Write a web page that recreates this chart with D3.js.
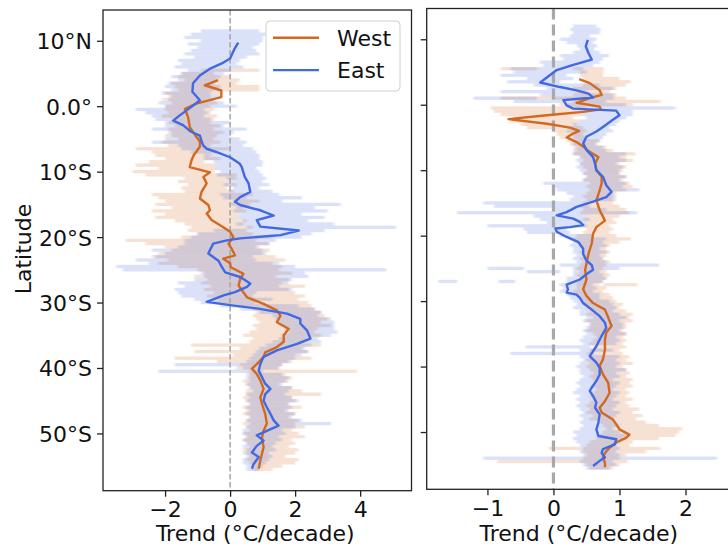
<!DOCTYPE html>
<html>
<head>
<meta charset="utf-8">
<script src="https://cdn.jsdelivr.net/npm/d3@7"></script>
<style>
  html, body { margin: 0; padding: 0; background: #fff; }
  svg { display: block; font-family: "DejaVu Sans", sans-serif; }
</style>
</head>
<body>
<svg id="chart" width="728" height="546"></svg>
<script>
// ---- mean trend profiles: [latitude, trend °C/decade] ----
const westLeft = [
  [4.0,-0.37],[3.2,-0.78],[2.4,-0.27],[1.4,-0.27],[0.4,-1.04],[-0.4,-1.39],[-1.7,-1.29],[-3.2,-1.24],
  [-4.6,-1.05],[-5.4,-0.93],[-6.2,-0.93],[-7.5,-1.12],[-8.3,-1.19],[-9.3,-1.24],[-10.1,-0.62],[-10.8,-0.82],[-11.8,-0.72],
  [-13.1,-0.88],[-14.1,-0.93],[-15.1,-0.67],[-15.9,-0.62],[-16.4,-0.72],[-17.4,-0.57],[-18.5,-0.21],[-19.2,0.0],
  [-20.0,0.10],[-21.0,-0.05],[-21.8,0.05],[-22.8,0.15],[-23.3,-0.21],[-24.0,0.0],[-24.6,0.02],[-25.6,0.41],
  [-26.4,0.31],[-27.4,0.26],[-28.1,0.36],[-29.2,0.52],[-30.2,1.03],[-31.2,1.44],[-32.0,1.55],[-33.0,1.44],
  [-34.0,1.80],[-35.0,1.65],[-36.0,1.65],[-36.8,1.44],[-37.6,1.08],[-38.3,1.03],[-39.4,0.82],[-40.1,0.67],
  [-40.9,0.82],[-41.9,0.93],[-43.2,1.03],[-44.5,0.93],[-45.5,0.98],[-47.0,1.08],[-48.5,1.13],[-49.6,1.03],
  [-50.6,0.98],[-52.1,1.03],[-53.1,0.98],[-54.1,0.93],[-55.4,0.88]
];
const eastLeft = [
  [9.7,0.25],[8.8,0.14],[7.3,0.0],[6.5,-0.27],[5.7,-0.63],[4.7,-0.93],[3.5,-1.14],[2.2,-1.16],[0.9,-0.93],
  [-0.1,-1.19],[-1.4,-1.55],[-2.2,-1.75],[-2.9,-1.45],[-3.9,-1.2],[-4.5,-0.93],[-5.3,-0.88],[-6.0,-0.83],
  [-6.5,-0.72],[-7.0,-0.41],[-7.8,0.0],[-8.8,0.3],[-9.3,0.36],[-10.8,0.45],[-11.8,0.57],[-13.1,0.62],
  [-13.9,0.31],[-14.6,0.15],[-15.1,0.31],[-15.9,0.93],[-16.7,1.34],[-17.4,0.82],[-18.4,0.93],[-19.0,2.11],
  [-19.7,1.55],[-20.2,0.31],[-20.5,-0.10],[-21.0,-0.52],[-22.5,-0.67],[-23.6,-0.36],[-24.6,-0.25],[-25.4,-0.15],
  [-26.1,0.31],[-27.1,0.62],[-27.6,0.52],[-28.4,0.15],[-28.9,-0.20],[-29.9,-0.72],[-30.4,0.0],[-30.9,0.82],
  [-31.7,1.75],[-32.5,2.16],[-33.2,2.16],[-34.3,2.37],[-35.5,2.47],[-36.3,2.06],[-37.3,1.44],[-38.3,1.03],
  [-39.4,0.93],[-40.4,0.88],[-41.4,0.98],[-42.4,1.08],[-43.2,1.24],[-44.0,1.08],[-45.0,1.03],[-46.0,1.13],
  [-47.0,1.24],[-48.0,1.34],[-48.8,1.49],[-49.6,1.13],[-50.3,0.82],[-51.1,1.03],[-51.9,0.82],[-52.9,0.67],
  [-53.6,0.88],[-54.7,0.72],[-55.4,0.67]
];
const westRight = [
  [3.9,0.39],[3.3,0.55],[2.2,0.70],[1.5,0.73],[1.0,0.55],[0.3,0.35],[-0.3,0.70],[-0.7,0.72],[-1.1,0.45],
  [-1.6,-0.10],[-2.2,-0.68],[-2.9,-0.10],[-3.5,0.25],[-4.0,0.39],[-4.5,0.28],[-5.0,0.20],[-5.7,0.35],
  [-6.4,0.45],[-7.2,0.55],[-8.0,0.68],[-9.0,0.63],[-10.0,0.65],[-11.0,0.73],[-12.0,0.73],[-13.1,0.70],
  [-14.6,0.65],[-16.1,0.70],[-17.7,0.78],[-18.7,0.65],[-19.7,0.60],[-21.2,0.58],[-22.8,0.53],[-24.3,0.50],
  [-25.2,0.48],[-26.7,0.50],[-28.2,0.45],[-29.2,0.50],[-30.3,0.60],[-31.3,0.78],[-32.5,0.83],[-33.8,0.88],
  [-34.8,0.80],[-35.9,0.78],[-37.4,0.78],[-38.9,0.75],[-39.9,0.70],[-41.2,0.75],[-42.5,0.83],[-44.0,0.85],
  [-45.3,0.78],[-46.3,0.70],[-47.0,0.73],[-48.1,0.90],[-48.8,0.95],[-49.6,1.00],[-50.4,1.15],[-50.9,1.10],
  [-51.6,0.95],[-52.4,0.85],[-53.2,0.78],[-53.9,0.75],[-54.7,0.78],[-55.4,0.78]
];
const eastRight = [
  [9.9,0.52],[8.9,0.49],[7.9,0.53],[6.9,0.58],[6.1,0.30],[5.3,0.05],[4.3,-0.08],[3.4,-0.20],[2.7,0.10],
  [2.2,0.35],[1.7,0.53],[1.1,0.60],[0.7,0.15],[-0.1,0.20],[-0.6,0.30],[-0.9,0.95],[-1.6,1.0],[-2.3,0.90],
  [-3.4,0.75],[-4.1,0.65],[-4.9,0.50],[-5.9,0.45],[-6.9,0.50],[-8.0,0.60],[-9.0,0.63],[-10.0,0.65],
  [-11.0,0.75],[-12.3,0.80],[-13.3,0.88],[-14.1,0.80],[-14.8,0.60],[-15.6,0.35],[-16.4,0.20],[-16.9,0.05],
  [-17.4,0.30],[-17.9,0.40],[-18.4,0.45],[-18.7,0.25],[-18.9,0.03],[-19.4,0.05],[-20.2,0.20],[-21.0,0.38],
  [-22.0,0.45],[-22.8,0.45],[-23.8,0.50],[-24.5,0.58],[-25.2,0.60],[-25.9,0.50],[-26.7,0.40],[-27.5,0.20],
  [-28.2,0.22],[-28.7,0.20],[-29.0,0.35],[-29.5,0.40],[-30.3,0.45],[-31.3,0.58],[-32.3,0.70],[-33.3,0.78],
  [-34.1,0.80],[-35.3,0.73],[-36.9,0.65],[-38.4,0.55],[-39.4,0.65],[-40.2,0.70],[-41.2,0.70],[-42.2,0.65],
  [-43.2,0.58],[-43.7,0.55],[-44.5,0.60],[-45.5,0.65],[-46.3,0.63],[-47.3,0.70],[-48.6,0.68],[-49.6,0.65],
  [-50.6,0.68],[-51.1,0.95],[-51.9,0.93],[-52.6,0.75],[-53.2,0.73],[-53.9,0.78],[-54.4,0.70],[-55.2,0.60]
];

// ---- spread per 0.5° latitude row: [latitude, low, high] ----
const eastLeftBand = [
  [11.5,-0.9,0.9],[11,-1.2,1.1],[10.5,-1.4,1.0],[10,-0.9,1.0],[9.5,-1.3,0.9],[9,-1.0,0.7],[8.5,-1.2,0.8],[8,-1.4,0.9],
  [7.5,-1.1,0.5],[7,-1.6,0.3],[6.5,-1.5,0.2],[6,-1.7,0.4],[5.5,-1.3,0.0],[5,-1.5,-0.2],[4.5,-1.8,-0.3],[4,-1.6,-0.4],
  [3.5,-1.9,-0.5],[3,-2.0,-0.3],[2.5,-1.8,-0.5],[2,-2.1,-0.6],[1.5,-1.8,-0.3],[1,-1.9,-0.5],[0.5,-2.2,-0.2],[0,-2.0,0.2],
  [-0.5,-2.9,-0.8],[-1,-2.6,-0.7],[-1.5,-2.4,-0.8],[-2,-2.3,-0.6],[-2.5,-1.9,0.0],[-3,-2.0,-0.2],[-3.5,-2.4,0.5],[-4,-1.9,0.1],
  [-4.5,-1.8,0.0],[-5,-2.0,0.3],[-5.5,-2.4,0.5],[-6,-1.6,0.4],[-6.5,-1.5,0.7],[-7,-1.2,0.8],[-7.5,-0.8,0.9],[-8,-0.8,0.9],
  [-8.5,-0.5,1.0],[-9,-0.4,1.0],[-9.5,-0.5,0.8],[-10,-0.3,0.9],[-10.5,-0.4,1.0],[-11,-0.1,1.1],[-11.5,0.0,1.0],[-12,-0.2,1.2],
  [-12.5,0.1,0.9],[-13,0.0,1.3],[-13.5,-0.3,1.5],[-14,-0.2,2.2],[-14.5,0.1,1.6],[-15,0.0,3.4],[-15.5,0.2,2.6],[-16,0.1,3.0],
  [-16.5,0.3,2.2],[-17,0.2,2.9],[-17.5,0.4,2.4],[-18,0.2,3.2],[-18.5,0.5,5.1],[-19,-0.5,2.9],[-19.5,-1.0,2.5],[-20,-1.2,2.2],
  [-20.5,-1.4,1.4],[-21,-1.4,1.2],[-21.5,-1.6,0.8],[-22,-2.4,1.0],[-22.5,-2.0,1.1],[-23,-2.3,0.7],[-23.5,-2.9,0.8],[-24,-2.5,1.5],
  [-24.5,-3.5,2.0],[-25,-3.3,4.8],[-25.5,-0.9,2.3],[-26,-0.8,2.4],[-26.5,-1.1,1.9],[-27,-1.6,1.8],[-27.5,-1.4,1.5],[-28,-1.7,1.9],
  [-28.5,-1.6,0.8],[-29,-1.5,0.7],[-29.5,-1.1,1.3],[-30,-0.9,0.8],[-30.5,-0.3,2.1],[-31,0.3,2.6],[-31.5,0.9,2.8],[-32,1.3,2.7],
  [-32.5,1.4,3.0],[-33,1.5,3.2],[-33.5,1.6,3.2],[-34,1.7,3.2],[-34.5,1.8,3.3],[-35,1.6,3.1],[-35.5,1.5,2.7],[-36,1.3,2.8],
  [-36.5,1.1,2.5],[-37,0.9,2.3],[-37.5,0.8,2.4],[-38,0.7,2.2],[-38.5,0.6,2.0],[-39,0.5,1.8],[-39.5,-1.7,1.6],[-40,0.4,1.5],
  [-40.5,-2.2,1.0],[-41,0.6,1.6],[-41.5,0.5,1.8],[-42,0.6,1.7],[-42.5,0.5,1.6],[-43,0.6,1.9],[-43.5,0.7,1.8],[-44,0.5,1.7],
  [-44.5,0.6,1.9],[-45,0.5,2.1],[-45.5,0.6,1.8],[-46,0.5,1.9],[-46.5,0.6,1.8],[-47,0.5,2.0],[-47.5,0.6,1.9],[-48,0.5,2.2],
  [-48.5,0.6,3.1],[-49,0.5,2.0],[-49.5,0.4,1.6],[-50,0.4,1.7],[-50.5,0.5,1.5],[-51,0.4,1.6],[-51.5,0.5,1.4],[-52,0.4,1.3],
  [-52.5,0.5,1.4],[-53,0.4,1.2],[-53.5,0.5,1.3],[-54,0.4,1.2],[-54.5,0.4,1.1],[-55,0.5,1.0],[-55.5,0.5,0.9]
];
const westLeftBand = [
  [5.5,-0.9,0.9],[5,-1.5,-0.5],[4.5,-1.6,0.0],[4,-1.4,0.3],[3.5,-1.8,0.2],[3,-1.7,0.9],[2.5,-1.6,0.9],[2,-2.0,-0.3],
  [1.5,-1.9,-0.6],[1,-2.1,-0.5],[0.5,-1.8,-0.4],[0,-2.0,-0.6],[-0.5,-2.0,-0.5],[-1,-1.9,-0.6],[-1.5,-2.1,-0.4],[-2,-1.8,-0.5],
  [-2.5,-2.0,-0.6],[-3,-1.7,-0.3],[-3.5,-1.9,-0.5],[-4,-1.8,-0.2],[-4.5,-2.0,-0.4],[-5,-1.6,-0.5],[-5.5,-2.1,-0.3],[-6,-1.9,-0.6],
  [-6.5,-2.9,0.0],[-7,-2.4,-0.4],[-7.5,-2.3,-0.6],[-8,-2.0,-0.3],[-8.5,-2.5,-0.8],[-9,-2.9,-0.4],[-9.5,-2.2,-0.5],[-10,-3.0,-0.5],
  [-10.5,-2.6,0.2],[-11,-1.4,0.2],[-11.5,-1.6,0.0],[-12,-1.3,0.2],[-12.5,-1.5,-0.1],[-13,-1.4,0.1],[-13.5,-2.4,0.7],[-14,-2.2,0.5],
  [-14.5,-2.0,0.9],[-15,-2.3,0.6],[-15.5,-1.8,0.4],[-16,-2.4,0.5],[-16.5,-2.0,0.3],[-17,-2.3,0.2],[-17.5,-1.7,0.5],[-18,-1.4,0.4],
  [-18.5,-1.2,0.7],[-19,-1.3,0.5],[-19.5,-1.0,0.7],[-20,-1.5,1.3],[-20.5,-3.2,0.8],[-21,-2.6,1.2],[-21.5,-2.0,0.9],[-22,-1.8,1.2],
  [-22.5,-2.2,1.0],[-23,-2.4,1.4],[-23.5,-1.9,1.7],[-24,-2.2,1.3],[-24.5,-1.6,1.6],[-25,-1.0,1.5],[-25.5,-0.8,1.9],[-26,-1.1,1.4],
  [-26.5,-0.7,1.8],[-27,-0.9,1.6],[-27.5,-0.6,2.3],[-28,-0.8,1.8],[-28.5,-0.5,2.0],[-29,-0.7,2.3],[-29.5,-0.4,2.1],[-30,-0.5,2.4],
  [-30.5,0.2,2.5],[-31,0.7,2.6],[-31.5,0.8,2.8],[-32,0.7,2.9],[-32.5,0.8,3.1],[-33,0.9,2.8],[-33.5,0.7,3.1],[-34,0.8,2.7],
  [-34.5,0.6,2.6],[-35,0.4,2.8],[-35.5,0.7,2.4],[-36,0.6,2.3],[-36.5,-1.2,2.8],[-37,0.3,2.2],[-37.5,-1.1,2.4],[-38,0.1,2.0],
  [-38.5,-1.7,2.5],[-39,-0.4,1.9],[-39.5,0.3,1.6],[-40,0.2,1.5],[-40.5,0.6,3.9],[-41,0.5,1.7],[-41.5,0.6,1.9],[-42,0.4,1.8],
  [-42.5,0.5,1.5],[-43,0.6,1.9],[-43.5,0.5,2.2],[-44,0.5,2.8],[-44.5,0.4,1.9],[-45,0.5,2.0],[-45.5,0.6,1.8],[-46,0.4,2.2],
  [-46.5,0.5,1.7],[-47,0.4,2.0],[-47.5,0.6,1.8],[-48,0.5,2.1],[-48.5,0.4,2.0],[-49,0.5,2.3],[-49.5,0.6,1.9],[-50,0.4,2.1],
  [-50.5,0.5,2.3],[-51,0.4,1.9],[-51.5,0.5,2.0],[-52,0.6,1.8],[-52.5,0.4,2.1],[-53,0.5,2.0],[-53.5,0.6,1.7],[-54,0.5,2.1],
  [-54.5,0.6,2.0],[-55,0.7,1.6],[-55.5,0.7,1.3]
];
const eastRightBand = [
  [12,0.3,0.65],[11.5,0.26,0.71],[11,0.3,0.7],[10.5,0.25,0.55],[10,0.1,0.65],[9.5,0.2,0.6],[9,0.36,0.66],[8.5,0.4,0.62],
  [8,0.3,0.7],[7.5,0.1,0.84],[7,0.15,0.75],[6.5,-0.2,0.7],[6,-0.15,0.6],[5.5,-0.65,0.45],[5,-0.6,0.5],[4.5,-0.8,0.2],
  [4,-0.4,0.3],[3.5,-0.7,0.1],[3,-0.3,0.7],[2.5,-0.1,0.9],[2,-0.8,0.5],[1.5,-0.2,0.9],[1,-1.21,-0.25],[1,0.0,0.91],
  [0.5,-0.6,0.8],[0,0.2,1.1],[-0.5,0.3,1.85],[-1,0.4,1.2],[-1.5,0.45,1.2],[-2,0.5,1.1],[-2.5,0.4,1.0],[-3,0.3,0.95],
  [-3.5,0.25,0.85],[-4,0.2,0.9],[-4.5,0.3,0.8],[-5,0.3,0.75],[-5.5,0.35,0.7],[-6,0.3,0.65],[-6.5,0.35,0.75],[-7,0.3,0.8],
  [-7.5,0.3,1.1],[-8,0.4,1.0],[-8.5,0.35,1.1],[-9,0.4,0.95],[-9.5,0.35,1.05],[-10,0.4,1.0],[-10.5,0.45,1.0],[-11,0.5,1.1],
  [-11.5,0.45,1.0],[-12,-0.15,1.1],[-12.5,0.0,1.05],[-13,0.05,1.3],[-13.5,0.2,0.9],[-14,0.3,0.95],[-14.5,0.25,0.9],[-15,-1.06,0.5],
  [-15.5,-0.9,0.55],[-16,0.0,0.8],[-16.5,-1.46,1.27],[-17,-0.3,0.5],[-17.5,-0.2,0.55],[-18,-0.1,0.5],[-18.5,-1.0,0.5],[-19,-0.45,0.2],
  [-19.5,-0.4,0.25],[-20,0.1,0.6],[-20.5,0.25,0.8],[-21,0.3,0.75],[-21.5,0.25,0.8],[-22,0.3,0.7],[-22.5,0.3,0.8],[-23,0.35,0.7],
  [-23.5,0.3,0.75],[-24,0.35,0.8],[-24.5,0.1,1.6],[-25,-1.0,-0.45],[-25,0.3,1.0],[-25.5,-0.4,0.1],[-25.5,0.3,0.7],[-26,0.3,0.75],
  [-26.5,0.2,0.8],[-27,-1.74,-1.46],[-27,-0.83,-0.58],[-27,0.2,0.75],[-27.5,0.1,0.6],[-28,0.15,0.65],[-28.5,0.1,0.6],[-29,0.2,0.7],
  [-29.5,0.25,0.7],[-30,0.3,0.85],[-30.5,0.35,0.9],[-31,0.3,0.95],[-31.5,0.4,0.9],[-32,0.4,1.0],[-32.5,0.5,1.1],[-33,0.45,1.0],
  [-33.5,0.55,1.05],[-34,0.5,1.05],[-34.5,0.45,1.0],[-35,0.5,1.1],[-35.5,0.45,0.95],[-36,0.4,1.0],[-36.5,0.45,0.95],[-37,-0.42,0.56],
  [-37.5,0.4,0.9],[-38,-0.65,0.61],[-38.5,0.4,1.0],[-39,0.45,0.95],[-39.5,0.4,1.0],[-40,0.35,0.95],[-40.5,0.4,1.1],[-41,0.4,0.95],
  [-41.5,0.45,1.0],[-42,0.4,0.9],[-42.5,0.35,1.0],[-43,0.4,0.95],[-43.5,0.35,0.9],[-44,0.3,1.0],[-44.5,0.4,0.95],[-45,0.35,0.9],
  [-45.5,0.4,1.0],[-46,0.35,0.95],[-46.5,0.4,0.9],[-47,0.45,1.0],[-47.5,0.4,0.95],[-48,0.45,0.9],[-48.5,0.4,0.95],[-49,0.45,1.0],
  [-49.5,0.4,0.9],[-50,0.3,1.0],[-50.5,0.35,1.1],[-51,0.3,1.05],[-51.5,0.35,1.0],[-52,0.4,0.95],[-52.5,0.45,1.0],[-53,0.4,0.95],
  [-53.5,0.45,1.0],[-54,-1.06,2.48],[-54.5,0.4,0.9],[-55,0.45,0.95],[-55.5,0.5,0.85]
];
const westRightBand = [
  [5.5,-0.8,-0.25],[5.5,0.3,0.76],[5,0.4,0.76],[4.5,0.4,0.75],[4,0.45,1.0],[3.5,0.5,1.17],[3,0.45,1.1],[2.5,0.3,0.95],
  [2,0.35,0.85],[1.5,0.3,0.95],[1,-0.8,1.1],[0.5,0.3,1.62],[0,0.1,1.2],[-0.5,-0.95,0.5],[-1,-0.9,0.4],[-1.5,-0.8,0.45],
  [-2,-0.6,0.3],[-2.5,-0.65,0.4],[-3,-0.5,0.35],[-3.5,-0.4,0.45],[-4,0.0,0.5],[-4.5,0.05,0.45],[-5,0.1,0.5],[-5.5,0.2,0.7],
  [-6,0.25,0.65],[-6.5,0.3,0.8],[-7,0.35,0.9],[-7.5,0.3,1.24],[-8,0.4,1.1],[-8.5,0.45,1.2],[-9,0.4,1.0],[-9.5,0.45,1.1],
  [-10,0.5,1.05],[-10.5,0.45,1.0],[-11,0.5,1.1],[-11.5,0.45,1.05],[-12,0.55,1.15],[-12.5,0.5,1.2],[-13,0.55,1.1],[-13.5,0.5,0.95],
  [-14,0.45,0.9],[-14.5,0.5,0.95],[-15,0.45,0.9],[-15.5,0.4,1.0],[-16,0.45,1.1],[-16.5,0.4,1.15],[-17,0.5,1.0],[-17.5,0.45,0.9],
  [-18,0.5,0.95],[-18.5,0.45,0.85],[-19,0.5,0.9],[-19.5,0.45,0.85],[-20,0.35,0.95],[-20.5,0.3,1.17],[-21,0.35,1.0],[-21.5,0.4,0.85],
  [-22,0.45,0.8],[-22.5,0.4,0.85],[-23,0.45,0.8],[-23.5,0.4,0.75],[-24,0.45,0.85],[-24.5,0.4,0.8],[-25,0.35,0.75],[-25.5,0.4,0.8],
  [-26,0.35,0.85],[-26.5,0.4,0.8],[-27,0.35,0.75],[-27.5,0.76,1.27],[-27.5,0.35,0.7],[-28,0.35,0.8],[-28.5,0.3,0.75],[-29,0.35,0.85],
  [-29.5,0.4,0.9],[-30,0.4,0.95],[-30.5,0.45,1.05],[-31,0.5,1.0],[-31.5,0.55,1.1],[-32,0.5,1.2],[-32.5,0.6,1.15],[-33,0.5,1.2],
  [-33.5,0.55,1.1],[-34,0.55,1.1],[-34.5,0.5,1.05],[-35,0.6,1.1],[-35.5,0.65,1.05],[-36,0.6,1.1],[-36.5,0.55,1.05],[-37,0.6,1.1],
  [-37.5,0.55,1.0],[-38,0.5,1.05],[-38.5,0.55,1.15],[-39,0.5,1.1],[-39.5,0.55,1.2],[-40,0.5,1.05],[-40.5,0.55,1.1],[-41,0.6,1.15],
  [-41.5,0.55,1.1],[-42,0.6,1.2],[-42.5,0.65,1.15],[-43,0.6,1.2],[-43.5,0.65,1.1],[-44,0.6,1.15],[-44.5,0.55,1.1],[-45,0.6,1.2],
  [-45.5,0.55,1.1],[-46,0.5,1.15],[-46.5,0.55,1.3],[-47,0.5,1.2],[-47.5,0.6,1.35],[-48,0.55,1.25],[-48.5,0.7,1.4],[-49,0.75,1.6],
  [-49.5,0.8,1.95],[-50,0.75,1.9],[-50.5,0.7,1.85],[-51,0.65,1.6],[-51.5,0.55,1.2],[-52,0.5,1.15],[-52.5,-0.07,1.62],[-53,0.45,1.4],
  [-53.5,0.5,1.1],[-54,0.45,1.0],[-54.5,-0.85,1.12],[-55,0.5,1.0],[-55.5,0.55,0.9]
];

// ---- axis ticks and labels ----
const latTicks = [10, 0, -10, -20, -30, -40, -50];
const leftTrendTicks = [-2, 0, 2, 4];
const rightTrendTicks = [-1, 0, 1, 2];
const seriesNames = ["West", "East"];
const xTitle = "Trend (°C/decade)";
const yTitle = "Latitude";

const COLORS = { West: "#d2691e", East: "#4169e1" };
const FONT = 22;

const svg = d3.select("#chart");

const latFormat = v => v > 0 ? `${v}°N` : v < 0 ? `${-v}°S` : "0.0°";
const numFormat = v => v < 0 ? "\u2212" + (-v) : String(v);

const panels = [
  { id: "L", box: { x0: 103, x1: 411.5, y0: 10, y1: 490.7 }, xDomain: [-3.91, 5.58],
    ticks: leftTrendTicks, showLat: true, zeroWidth: 1.6, zeroDash: "5.5,2.5",
    west: westLeft, east: eastLeft, westBand: westLeftBand, eastBand: eastLeftBand },
  { id: "R", box: { x0: 426.7, x1: 735, y0: 8.5, y1: 489.3 }, xDomain: [-1.92, 2.75],
    ticks: rightTrendTicks, showLat: false, zeroWidth: 3.2, zeroDash: "11,5",
    west: westRight, east: eastRight, westBand: westRightBand, eastBand: eastRightBand }
];

const latDomain = [-58.75, 14.7];

// soft edges on the spread rows
const defs = svg.append("defs");
defs.append("filter").attr("id", "soft").attr("x", "-5%").attr("y", "-5%").attr("width", "110%").attr("height", "110%")
  .append("feGaussianBlur").attr("stdDeviation", "1.2 0.5");

panels.forEach(p => {
  const b = p.box;
  const x = d3.scaleLinear().domain(p.xDomain).range([b.x0, b.x1]);
  const y = d3.scaleLinear().domain(latDomain).range([b.y1, b.y0]);
  const rowH = Math.abs(y(0) - y(0.5));

  defs.append("clipPath").attr("id", "clip" + p.id)
    .append("rect").attr("x", b.x0).attr("y", b.y0).attr("width", b.x1 - b.x0).attr("height", b.y1 - b.y0);

  const g = svg.append("g").attr("clip-path", `url(#clip${p.id})`);

  const drawBand = (rows, color, cls) => {
    g.append("g").attr("class", cls).attr("filter", "url(#soft)")
      .selectAll("rect").data(rows).join("rect")
      .attr("x", d => x(d[1]))
      .attr("width", d => Math.max(0, x(d[2]) - x(d[1])))
      .attr("y", d => y(d[0] + 0.25))
      .attr("height", rowH)
      .attr("fill", color).attr("fill-opacity", 0.2);
  };
  drawBand(p.westBand, COLORS.West, "west-band");
  drawBand(p.eastBand, COLORS.East, "east-band");

  // zero reference line
  g.append("line")
    .attr("x1", x(0)).attr("x2", x(0)).attr("y1", b.y0).attr("y2", b.y1)
    .attr("stroke", "#a8a8a8").attr("stroke-width", p.zeroWidth)
    .attr("stroke-dasharray", p.zeroDash);

  // mean profiles
  const line = d3.line().x(d => x(d[1])).y(d => y(d[0]));
  g.append("path").datum(p.west).attr("d", line)
    .attr("fill", "none").attr("stroke", COLORS.West).attr("stroke-width", 2.4)
    .attr("stroke-linejoin", "round");
  g.append("path").datum(p.east).attr("d", line)
    .attr("fill", "none").attr("stroke", COLORS.East).attr("stroke-width", 2.4)
    .attr("stroke-linejoin", "round");

  // axes
  const yAxis = d3.axisLeft(y).tickValues(latTicks).tickSize(6).tickPadding(5)
    .tickFormat(p.showLat ? latFormat : () => "");
  const ya = svg.append("g").attr("transform", `translate(${b.x0},0)`).call(yAxis);
  const xAxis = d3.axisBottom(x).tickValues(p.ticks).tickSize(6).tickPadding(5).tickFormat(numFormat);
  const xa = svg.append("g").attr("transform", `translate(0,${b.y1})`).call(xAxis);
  [ya, xa].forEach(a => {
    a.select(".domain").remove();
    a.selectAll(".tick line").attr("stroke", "#222").attr("stroke-width", 1.3);
    a.selectAll(".tick text").attr("fill", "#111").attr("font-size", FONT)
      .attr("font-family", "DejaVu Sans, sans-serif");
  });
  ya.selectAll(".tick text").attr("dy", "0.36em");
  xa.selectAll(".tick text").attr("dy", "0.7em");

  // frame
  svg.append("rect").attr("x", b.x0).attr("y", b.y0)
    .attr("width", b.x1 - b.x0).attr("height", b.y1 - b.y0)
    .attr("fill", "none").attr("stroke", "#222").attr("stroke-width", 1.3);

  // x title
  svg.append("text").attr("x", (b.x0 + b.x1) / 2 - 2).attr("y", 541)
    .attr("text-anchor", "middle").attr("font-size", FONT).attr("fill", "#111")
    .text(xTitle);
});

// y title
svg.append("text").attr("transform", "translate(31,249) rotate(-90)")
  .attr("text-anchor", "middle").attr("font-size", FONT).attr("fill", "#111")
  .text(yTitle);

// legend
const lg = svg.append("g").attr("transform", "translate(266,21)");
lg.append("rect").attr("width", 134).attr("height", 70).attr("rx", 4)
  .attr("fill", "#fff").attr("fill-opacity", 0.85).attr("stroke", "#d0d0d0").attr("stroke-width", 1);
seriesNames.forEach((name, i) => {
  const cy = 16.8 + i * 32.3;
  lg.append("line").attr("x1", 7).attr("x2", 53).attr("y1", cy).attr("y2", cy)
    .attr("stroke", COLORS[name]).attr("stroke-width", 2.4);
  lg.append("text").attr("x", 71).attr("y", cy + 8)
    .attr("font-size", FONT).attr("fill", "#111").text(name);
});
</script>
</body>
</html>
